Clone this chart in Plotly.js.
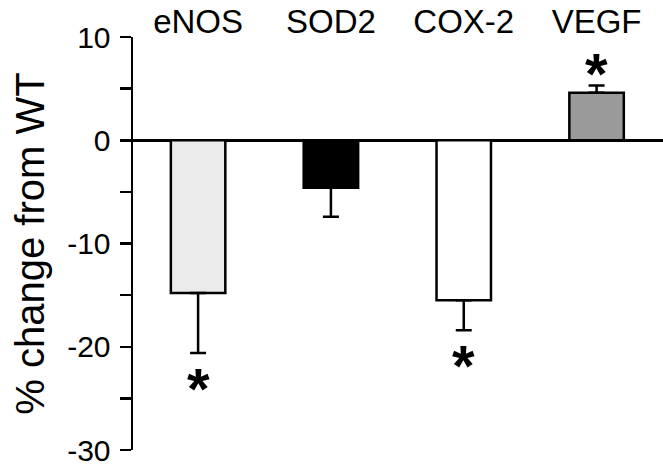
<!DOCTYPE html>
<html>
<head>
<meta charset="utf-8">
<script src="https://cdn.plot.ly/plotly-3.0.1.min.js"></script>
<style>html,body{margin:0;padding:0;background:#fff}#chart{width:663px;height:469px}</style>
</head>
<body>
<div id="chart"></div>
<script>
const categories = ['eNOS', 'SOD2', 'COX-2', 'VEGF'];
const values = [-14.8, -4.6, -15.5, 4.6];
const errors = [5.8, 2.8, 2.9, 0.7];
const significant = [true, false, true, true];
const barColors = ['#ebebeb', '#000000', '#ffffff', '#9a9a9a'];
const yTickVals = [-30, -25, -20, -15, -10, -5, 0, 5, 10];
const yTickText = ['-30', '', '-20', '', '-10', '', '0', '', '10'];

const errPlus = values.map((v, i) => v >= 0 ? errors[i] : 0);
const errMinus = values.map((v, i) => v < 0 ? errors[i] : 0);

const trace = {
  type: 'bar',
  x: categories,
  y: values,
  width: 0.41,
  marker: {color: barColors, line: {color: '#000', width: 2.5}},
  error_y: {type: 'data', symmetric: false, array: errPlus, arrayminus: errMinus,
            color: '#000', thickness: 2.5, width: 8},
  hoverinfo: 'none'
};

const annotations = [];
categories.forEach((c, i) => {
  if (!significant[i]) return;
  const v = values[i];
  const end = v >= 0 ? v + errors[i] : v - errors[i];
  const y = v >= 0 ? end + 2.3 : end - 2.3;
  annotations.push({x: c, y: y, text: '<b>*</b>', showarrow: false, xref: 'x', yref: 'y',
    yanchor: 'middle', yshift: -12,
    font: {family: 'Liberation Sans, Arial, sans-serif', size: 58, color: '#000'}});
});

const layout = {
  width: 663, height: 469,
  margin: {l: 133, r: 0, t: 37, b: 19},
  paper_bgcolor: '#fff', plot_bgcolor: '#fff',
  showlegend: false,
  font: {family: 'Liberation Sans, Arial, Helvetica, sans-serif', color: '#000'},
  xaxis: {side: 'top', range: [-0.49, 3.5], showline: false, ticks: '', showgrid: false,
          zeroline: false, tickfont: {size: 33}, ticklabelstandoff: -4},
  yaxis: {range: [-30, 10], tickvals: yTickVals, ticktext: yTickText, ticks: 'outside',
          ticklen: 11, tickwidth: 2.5, tickcolor: '#000', showline: true, linewidth: 2.5,
          linecolor: '#000', showgrid: false, zeroline: true, zerolinecolor: '#000',
          zerolinewidth: 2.5, tickfont: {size: 30}, ticklabelstandoff: 3,
          title: {text: '% change from WT', font: {size: 40}, standoff: 10}},
  annotations: annotations
};

Plotly.newPlot('chart', [trace], layout, {displayModeBar: false, staticPlot: true});
</script>
</body>
</html>
